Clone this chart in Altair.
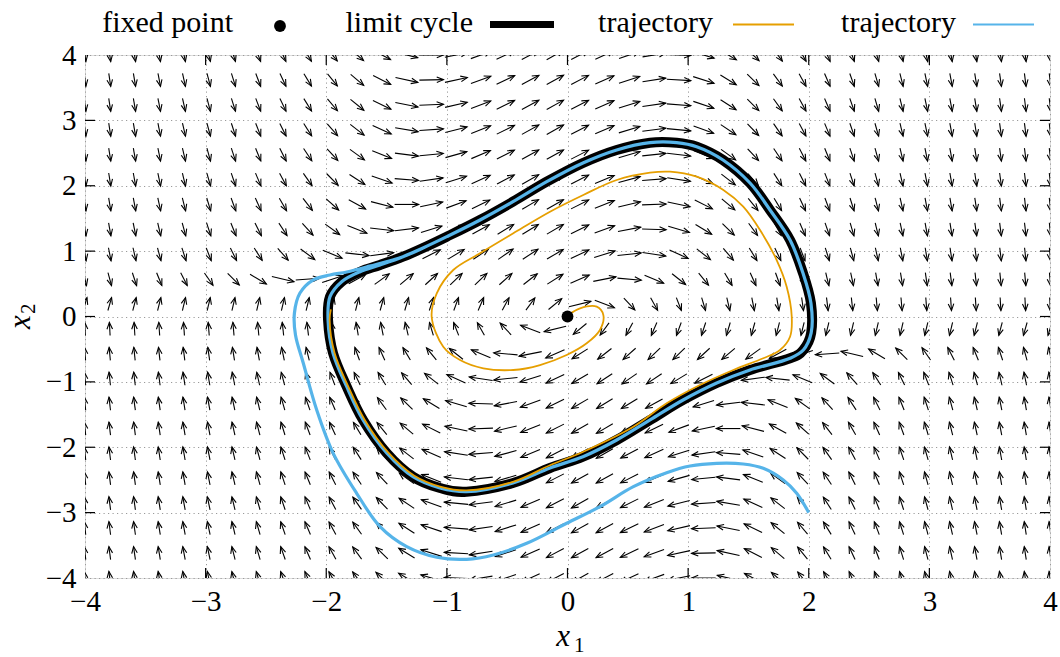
import math
import numpy as np
import pandas as pd
import altair as alt

# ---------------- data ----------------
AXIS_TICKS = [-4, -3, -2, -1, 0, 1, 2, 3, 4]
INNER_TICKS = [-3, -2, -1, 0, 1, 2, 3]

# direction field of the Van der Pol system (mu = 1) on a 40 x 22 grid
FIELD_X_RANGE = [-4.0, 4.0]
FIELD_Y_RANGE = [-4.0, 4.0]
FIELD_NX = 40
FIELD_NY = 22
ARROW_LEN = 0.2
MU = 1.0

FIXED_X1 = [0.0]
FIXED_X2 = [0.0]

# limit cycle (closed curve)
LC_X1 = [-1.985, -1.969, -1.872, -1.720, -1.554, -1.364, -1.198, -1.001, -0.725, -0.452,
         -0.172, 0.128, 0.408, 0.684, 0.905, 1.071, 1.289, 1.513, 1.679, 1.845,
         1.952, 2.018, 2.020, 1.955, 1.845, 1.513, 1.237, 0.958, 0.684, 0.408,
         0.128, -0.145, -0.452, -0.836, -1.057, -1.281, -1.499, -1.695, -1.830, -1.944]
LC_X2 = [-0.054, 0.303, 0.532, 0.685, 0.788, 0.915, 1.048, 1.221, 1.476, 1.756,
         2.062, 2.348, 2.547, 2.659, 2.659, 2.597, 2.394, 2.042, 1.629, 1.170,
         0.665, 0.207, -0.250, -0.512, -0.639, -0.818, -1.017, -1.277, -1.583, -1.889,
         -2.145, -2.317, -2.547, -2.680, -2.623, -2.451, -2.088, -1.583, -1.074, -0.558]

# orange trajectory: starts at the fixed point and spirals out onto the cycle
OR_X1 = [0.007, 0.104, 0.242, 0.297, 0.269, 0.159, -0.007, -0.228, -0.449, -0.698,
         -0.891, -1.030, -1.126, -1.084, -0.947, -0.725, -0.449, -0.145, 0.131, 0.408,
         0.684, 0.850, 1.071, 1.292, 1.457, 1.596, 1.734, 1.817, 1.859, 1.845,
         1.762, 1.623, 1.375, 1.098, 0.822, 0.546, 0.131, -0.145, -0.452, -0.836,
         -1.050, -1.270, -1.487, -1.682, -1.817, -1.931, -1.972, -1.962]
OR_X2 = [0.023, 0.125, 0.150, 0.023, -0.206, -0.410, -0.589, -0.742, -0.818, -0.792,
         -0.665, -0.462, -0.003, 0.355, 0.711, 0.967, 1.273, 1.603, 1.859, 2.088,
         2.200, 2.215, 2.138, 1.935, 1.680, 1.323, 0.864, 0.456, -0.003, -0.309,
         -0.512, -0.639, -0.818, -1.048, -1.328, -1.686, -2.068, -2.275, -2.530, -2.660,
         -2.605, -2.435, -2.078, -1.578, -1.072, -0.558, -0.054, 0.110]

# blue trajectory: starts at (2, -3), approaches the cycle from outside
BL_X1 = [2.000, 1.900, 1.789, 1.623, 1.457, 1.237, 1.016, 0.822, 0.546, 0.269,
         -0.007, -0.338, -0.615, -0.836, -1.084, -1.333, -1.554, -1.748, -1.942, -2.079,
         -2.190, -2.255, -2.264, -2.218, -2.110, -1.969, -1.830, -1.640]
BL_X2 = [-3.000, -2.704, -2.501, -2.322, -2.256, -2.246, -2.287, -2.389, -2.603, -2.909,
         -3.163, -3.469, -3.648, -3.714, -3.683, -3.521, -3.215, -2.704, -2.093, -1.430,
         -0.716, -0.283, 0.050, 0.359, 0.558, 0.635, 0.680, 0.770]

LEGEND_LABELS = ["fixed point", "limit cycle", "trajectory", "trajectory"]
ORANGE = "#E69F00"
BLUE = "#56B4E9"

# ---------------- layout ----------------
W, H = 965, 523
SX = W / (FIELD_X_RANGE[1] - FIELD_X_RANGE[0])
SY = H / (FIELD_Y_RANGE[1] - FIELD_Y_RANGE[0])
FONT = "'Liberation Serif', 'Times New Roman', 'DejaVu Serif', serif"

XS = alt.Scale(domain=[-4, 4], nice=False, zero=False)
YS = alt.Scale(domain=[-4, 4], nice=False, zero=False)
AX_KW = dict(values=AXIS_TICKS, format="d", title=None, ticks=False, domain=False,
             grid=True, gridColor="#9a9a9a", gridDash=[1.2, 3.3], gridWidth=1,
             labelFont=FONT, labelFontSize=29, labelColor="black", labelPadding=9,
             labelFlush=False, labelOverlap=False)
XAX = alt.Axis(**AX_KW)
YAX = alt.Axis(**AX_KW)


def X(f):
    return alt.X(f, type="quantitative", scale=XS, axis=XAX)


def Y(f):
    return alt.Y(f, type="quantitative", scale=YS, axis=YAX)


# ---------------- direction field ----------------
gx = np.linspace(FIELD_X_RANGE[0], FIELD_X_RANGE[1], FIELD_NX)
gy = np.linspace(FIELD_Y_RANGE[0], FIELD_Y_RANGE[1], FIELD_NY)
rows = []
for a in gx:
    for b in gy:
        fx = b
        fy = MU * (1 - a * a) * b - a
        n = math.hypot(fx, fy)
        if n == 0:
            continue
        dx, dy = ARROW_LEN * fx / n, ARROW_LEN * fy / n
        ang = math.degrees(math.atan2(dx * SX, dy * SY)) % 360
        rows.append(dict(tx=a - dx / 2, ty=b - dy / 2, hx=a + dx / 2, hy=b + dy / 2, ang=ang))
field = pd.DataFrame(rows)

shafts = alt.Chart(field).mark_rule(color="black", strokeWidth=1.1, clip=True).encode(
    x=X("tx"), y=Y("ty"), x2="hx", y2="hy")
heads = alt.Chart(field).mark_point(
    shape="M-0.5,1.2L0,0L0.5,1.2", filled=False, color="black", strokeWidth=1.1,
    size=125, opacity=1, clip=True).encode(
    x=X("hx"), y=Y("hy"), angle=alt.Angle("ang:Q", scale=None))

# ---------------- curves ----------------
lc = pd.DataFrame({"x1": LC_X1, "x2": LC_X2, "i": range(len(LC_X1))})
orange = pd.DataFrame({"x1": OR_X1, "x2": OR_X2, "i": range(len(OR_X1))})
# blue continues around the whole cycle after joining it
bl_x1 = BL_X1 + LC_X1[5:] + LC_X1[:7]
bl_x2 = BL_X2 + LC_X2[5:] + LC_X2[:7]
blue = pd.DataFrame({"x1": bl_x1, "x2": bl_x2, "i": range(len(bl_x1))})

lc_line = alt.Chart(lc).mark_line(color="black", strokeWidth=10, interpolate="cardinal-closed",
                                  strokeJoin="round", clip=True).encode(
    x=X("x1"), y=Y("x2"), order="i:Q")
blue_line = alt.Chart(blue).mark_line(color=BLUE, strokeWidth=3.2, interpolate="catmull-rom",
                                      clip=True).encode(
    x=X("x1"), y=Y("x2"), order="i:Q")
orange_line = alt.Chart(orange).mark_line(color=ORANGE, strokeWidth=1.8, interpolate="catmull-rom",
                                          clip=True).encode(
    x=X("x1"), y=Y("x2"), order="i:Q")
fixed = alt.Chart(pd.DataFrame({"x1": FIXED_X1, "x2": FIXED_X2})).mark_point(
    filled=True, color="black", size=140, opacity=1, shape="circle").encode(
    x=X("x1"), y=Y("x2"))

# ---------------- inward ticks on all four sides ----------------
tk = pd.DataFrame({"t": INNER_TICKS})
tick_style = dict(color="black", strokeWidth=1.2)
tick_b = alt.Chart(tk).mark_rule(**tick_style).encode(x=X("t"), y=alt.value(H), y2=alt.value(H - 10))
tick_t = alt.Chart(tk).mark_rule(**tick_style).encode(x=X("t"), y=alt.value(0), y2=alt.value(10))
tick_l = alt.Chart(tk).mark_rule(**tick_style).encode(y=Y("t"), x=alt.value(0), x2=alt.value(10))
tick_r = alt.Chart(tk).mark_rule(**tick_style).encode(y=Y("t"), x=alt.value(W), x2=alt.value(W - 10))


# ---------------- legend (gnuplot style: label then sample) ----------------
def label(txt, px, py, size=30, style="normal", align="right", angle=0, baseline="alphabetic"):
    kw = dict(font=FONT, fontSize=size, fontStyle=style, align=align, baseline=baseline, color="black")
    if angle:
        kw["angle"] = angle
    return alt.Chart(pd.DataFrame({"s": [txt]})).mark_text(**kw).encode(
        text="s:N", x=alt.value(px), y=alt.value(py))


leg_y = -23.5
legend = [
    label(LEGEND_LABELS[0], 148, leg_y),
    label(LEGEND_LABELS[1], 388, leg_y),
    label(LEGEND_LABELS[2], 628, leg_y),
    label(LEGEND_LABELS[3], 871, leg_y),
    alt.Chart(pd.DataFrame({"k": [0]})).mark_point(filled=True, color="black", size=140, opacity=1).encode(
        x=alt.value(195), y=alt.value(-29)),
    alt.Chart(pd.DataFrame({"k": [0]})).mark_rule(color="black", strokeWidth=7).encode(
        x=alt.value(405), x2=alt.value(469), y=alt.value(-30.5)),
    alt.Chart(pd.DataFrame({"k": [0]})).mark_rule(color=ORANGE, strokeWidth=2).encode(
        x=alt.value(648), x2=alt.value(709), y=alt.value(-30.5)),
    alt.Chart(pd.DataFrame({"k": [0]})).mark_rule(color=BLUE, strokeWidth=2).encode(
        x=alt.value(888), x2=alt.value(949), y=alt.value(-30.5)),
]

# ---------------- axis titles x1 / x2 ----------------
titles = [
    label("x", 478, 591, size=31, style="italic", align="center"),
    label("1", 489, 597, size=21, align="left"),
    label("x", -55, 267, size=31, style="italic", align="center", angle=270),
    label("2", -50, 259, size=21, align="left", angle=270),
]

chart = alt.layer(
    shafts, heads, lc_line, blue_line, orange_line, fixed,
    tick_b, tick_t, tick_l, tick_r, *legend, *titles
).properties(
    width=W, height=H,
    padding={"left": 85, "top": 55, "right": 10, "bottom": 79},
    autosize=alt.AutoSizeParams(type="none"),
).configure_view(stroke="black", strokeWidth=1.5).configure(background="white")

chart.save("out.html", embed_options={"renderer": "svg", "actions": False})
